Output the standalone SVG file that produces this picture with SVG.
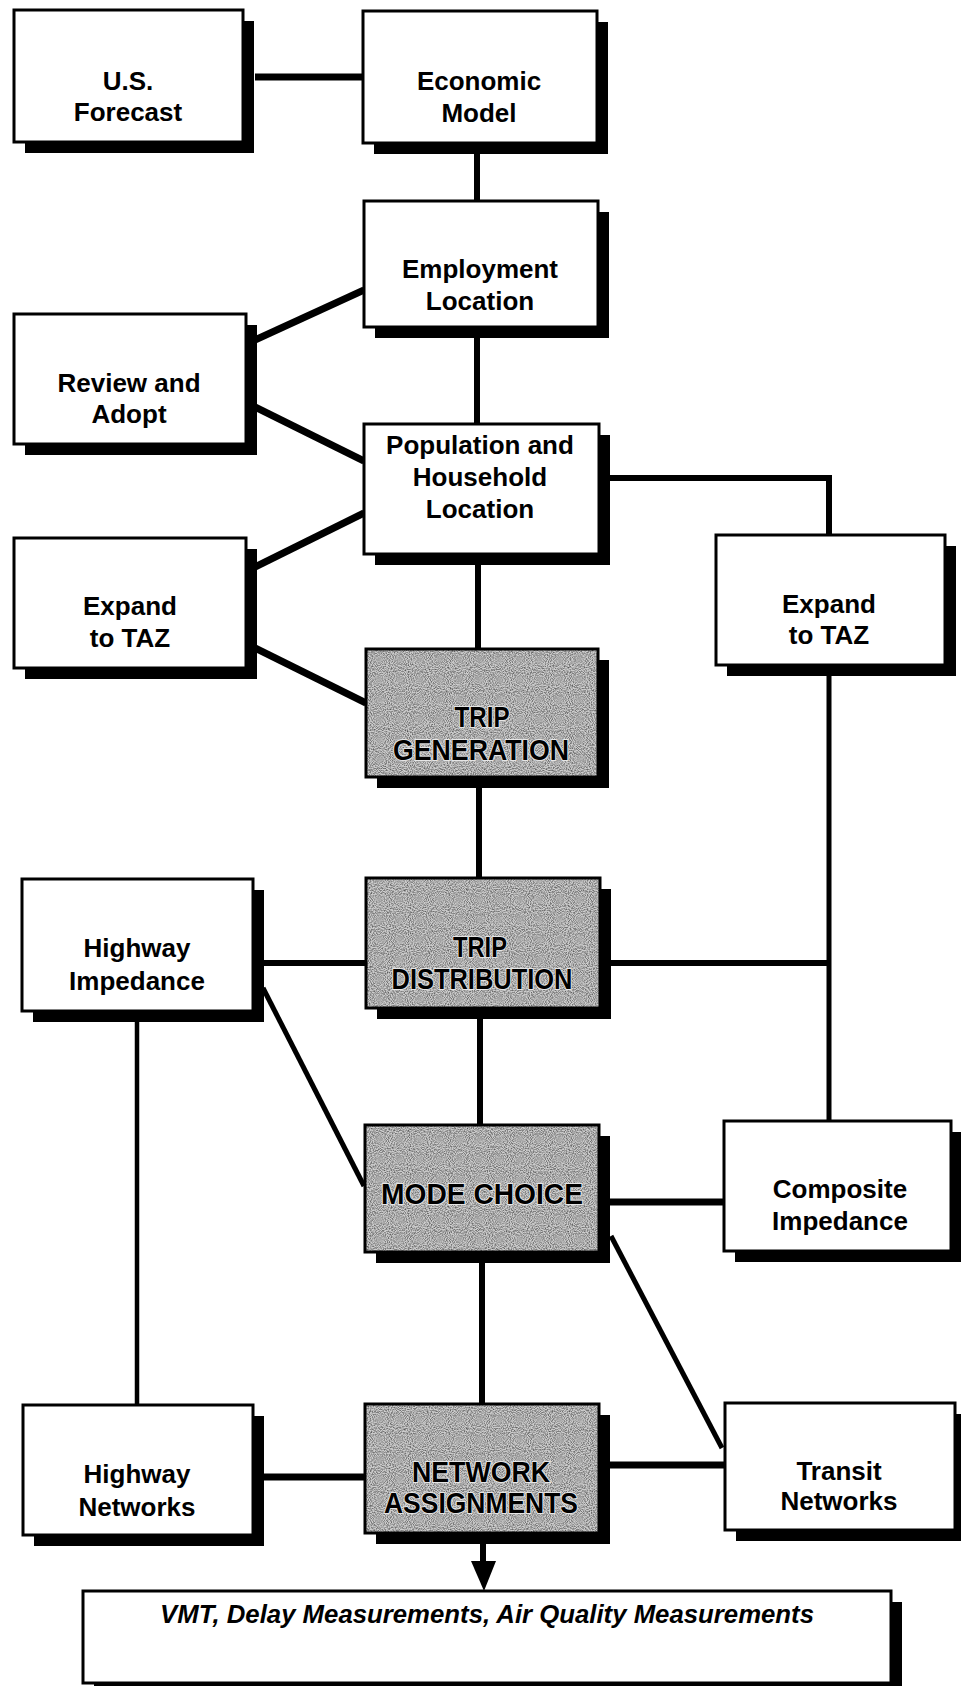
<svg xmlns="http://www.w3.org/2000/svg" width="961" height="1686" viewBox="0 0 961 1686">
<style>
.box{fill:#fff;stroke:#000;stroke-width:3}
.shd{fill:#000}
.gray{fill:#cdcdcd;stroke:#000;stroke-width:3}
.lbl{font-family:"Liberation Sans",Arial,sans-serif;font-size:26px;font-weight:bold;text-anchor:middle;fill:#000}
.big{font-family:"Liberation Sans",Arial,sans-serif;font-size:29px;font-weight:bold;text-anchor:middle;fill:#000;stroke:#e6e6e6;stroke-width:2px;paint-order:stroke}
.c{stroke:#000;fill:none;stroke-linecap:butt}
</style>
<defs>
<filter id="stipple" x="0" y="0" width="100%" height="100%">
<feTurbulence type="fractalNoise" baseFrequency="0.95" numOctaves="1" seed="7" result="t"/>
<feColorMatrix in="t" type="matrix" values="0 0 0 0 0  0 0 0 0 0  0 0 0 0 0  1.3 0 0 0 -0.48" result="a"/>
<feComposite in="a" in2="SourceGraphic" operator="in"/>
</filter>
</defs>
<rect width="961" height="1686" fill="#fff"/>
<g id="connectors">
<line class="c" x1="255" y1="77" x2="363" y2="77" stroke-width="7"/>
<line class="c" x1="477" y1="150" x2="477" y2="201" stroke-width="6"/>
<line class="c" x1="477" y1="335" x2="477" y2="424" stroke-width="6"/>
<line class="c" x1="255" y1="340" x2="364" y2="290" stroke-width="7"/>
<line class="c" x1="255" y1="407" x2="364" y2="461" stroke-width="7"/>
<line class="c" x1="255" y1="567" x2="364" y2="513" stroke-width="7"/>
<line class="c" x1="255" y1="648" x2="366" y2="703" stroke-width="7"/>
<polyline class="c" points="605,478 829,478 829,535" stroke-width="6"/>
<line class="c" x1="478" y1="560" x2="478" y2="649" stroke-width="6"/>
<line class="c" x1="479" y1="785" x2="479" y2="878" stroke-width="6"/>
<line class="c" x1="262" y1="963" x2="366" y2="963" stroke-width="6"/>
<line class="c" x1="608" y1="963" x2="829" y2="963" stroke-width="6"/>
<line class="c" x1="829" y1="672" x2="829" y2="1121" stroke-width="5"/>
<line class="c" x1="263" y1="988" x2="364" y2="1186" stroke-width="5"/>
<line class="c" x1="480" y1="1015" x2="480" y2="1125" stroke-width="6"/>
<line class="c" x1="608" y1="1202" x2="724" y2="1202" stroke-width="7"/>
<line class="c" x1="611" y1="1236" x2="722" y2="1448" stroke-width="5"/>
<line class="c" x1="137" y1="1018" x2="137" y2="1405" stroke-width="4.5"/>
<line class="c" x1="482" y1="1260" x2="482" y2="1404" stroke-width="6"/>
<line class="c" x1="262" y1="1477" x2="365" y2="1477" stroke-width="7"/>
<line class="c" x1="608" y1="1465" x2="725" y2="1465" stroke-width="7"/>
<line class="c" x1="483" y1="1540" x2="483" y2="1566" stroke-width="6"/>
<polygon points="471,1561 496,1561 484,1591" fill="#000"/>
</g>
<g id="usforecast">
<rect class="shd" x="25" y="21" width="229" height="132"/>
<rect class="box" x="14" y="10" width="229" height="132"/>
<text class="lbl" x="128" y="90">U.S.</text>
<text class="lbl" x="128" y="121">Forecast</text>
</g>
<g id="economic">
<rect class="shd" x="374" y="22" width="234" height="132"/>
<rect class="box" x="363" y="11" width="234" height="132"/>
<text class="lbl" x="479" y="90">Economic</text>
<text class="lbl" x="479" y="122">Model</text>
</g>
<g id="employment">
<rect class="shd" x="375" y="212" width="234" height="126"/>
<rect class="box" x="364" y="201" width="234" height="126"/>
<text class="lbl" x="480" y="278">Employment</text>
<text class="lbl" x="480" y="310">Location</text>
</g>
<g id="review">
<rect class="shd" x="25" y="325" width="232" height="130"/>
<rect class="box" x="14" y="314" width="232" height="130"/>
<text class="lbl" x="129" y="392">Review and</text>
<text class="lbl" x="129" y="423">Adopt</text>
</g>
<g id="population">
<rect class="shd" x="375" y="435" width="235" height="130"/>
<rect class="box" x="364" y="424" width="235" height="130"/>
<text class="lbl" x="480" y="454">Population and</text>
<text class="lbl" x="480" y="486">Household</text>
<text class="lbl" x="480" y="518">Location</text>
</g>
<g id="expand-left">
<rect class="shd" x="25" y="549" width="232" height="130"/>
<rect class="box" x="14" y="538" width="232" height="130"/>
<text class="lbl" x="130" y="615">Expand</text>
<text class="lbl" x="130" y="647">to TAZ</text>
</g>
<g id="expand-right">
<rect class="shd" x="727" y="546" width="229" height="130"/>
<rect class="box" x="716" y="535" width="229" height="130"/>
<text class="lbl" x="829" y="613">Expand</text>
<text class="lbl" x="829" y="644">to TAZ</text>
</g>
<g id="trip-generation">
<rect class="shd" x="377" y="660" width="232" height="128"/>
<rect class="gray" x="366" y="649" width="232" height="128"/>
<rect x="367" y="650" width="230" height="126" fill="#000" filter="url(#stipple)"/>
<text class="big" x="482" y="727" textLength="55" lengthAdjust="spacingAndGlyphs">TRIP</text>
<text class="big" x="481" y="760" textLength="176" lengthAdjust="spacingAndGlyphs">GENERATION</text>
</g>
<g id="highway-impedance">
<rect class="shd" x="33" y="890" width="231" height="132"/>
<rect class="box" x="22" y="879" width="231" height="132"/>
<text class="lbl" x="137" y="957">Highway</text>
<text class="lbl" x="137" y="990">Impedance</text>
</g>
<g id="trip-distribution">
<rect class="shd" x="377" y="889" width="234" height="130"/>
<rect class="gray" x="366" y="878" width="234" height="130"/>
<rect x="367" y="879" width="232" height="128" fill="#000" filter="url(#stipple)"/>
<text class="big" x="480" y="957" textLength="54" lengthAdjust="spacingAndGlyphs">TRIP</text>
<text class="big" x="482" y="989" textLength="181" lengthAdjust="spacingAndGlyphs">DISTRIBUTION</text>
</g>
<g id="mode-choice">
<rect class="shd" x="376" y="1136" width="234" height="127"/>
<rect class="gray" x="365" y="1125" width="234" height="127"/>
<rect x="366" y="1126" width="232" height="125" fill="#000" filter="url(#stipple)"/>
<text class="big" x="482" y="1204" textLength="202" lengthAdjust="spacingAndGlyphs">MODE CHOICE</text>
</g>
<g id="composite-impedance">
<rect class="shd" x="735" y="1132" width="227" height="130"/>
<rect class="box" x="724" y="1121" width="227" height="130"/>
<text class="lbl" x="840" y="1198">Composite</text>
<text class="lbl" x="840" y="1230">Impedance</text>
</g>
<g id="highway-networks">
<rect class="shd" x="34" y="1416" width="230" height="130"/>
<rect class="box" x="23" y="1405" width="230" height="130"/>
<text class="lbl" x="137" y="1483">Highway</text>
<text class="lbl" x="137" y="1516">Networks</text>
</g>
<g id="network-assignments">
<rect class="shd" x="376" y="1415" width="234" height="129"/>
<rect class="gray" x="365" y="1404" width="234" height="129"/>
<rect x="366" y="1405" width="232" height="127" fill="#000" filter="url(#stipple)"/>
<text class="big" x="481" y="1482" textLength="138" lengthAdjust="spacingAndGlyphs">NETWORK</text>
<text class="big" x="481" y="1513" textLength="194" lengthAdjust="spacingAndGlyphs">ASSIGNMENTS</text>
</g>
<g id="transit-networks">
<rect class="shd" x="736" y="1414" width="230" height="127"/>
<rect class="box" x="725" y="1403" width="230" height="127"/>
<text class="lbl" x="839" y="1480">Transit</text>
<text class="lbl" x="839" y="1510">Networks</text>
</g>
<g id="results">
<rect class="shd" x="94" y="1602" width="808" height="100"/>
<rect class="box" x="83" y="1591" width="808" height="92"/>
<text x="160" y="1623" font-family="'Liberation Sans',Arial,sans-serif" font-size="26" font-weight="bold" font-style="italic" textLength="654" lengthAdjust="spacingAndGlyphs">VMT, Delay Measurements, Air Quality Measurements</text>
</g>
</svg>
